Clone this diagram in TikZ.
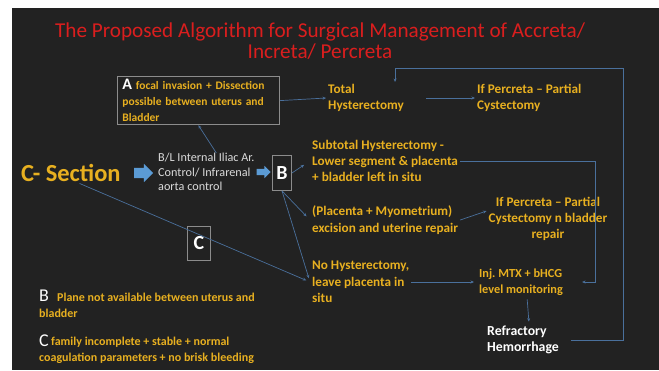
\documentclass[tikz,border=0pt]{standalone}
\usepackage{fontspec}
\setmainfont{Carlito}
\usepackage{tikz}
\usetikzlibrary{arrows.meta, positioning, calc, shapes.arrows}
\definecolor{bgd}{RGB}{34, 34, 34}
\definecolor{ttl}{RGB}{218, 30, 30}
\definecolor{ylw}{RGB}{232, 176, 32}
\definecolor{lnk}{RGB}{74, 112, 156}
\definecolor{blk}{RGB}{91, 155, 213}
\definecolor{frm}{RGB}{140, 140, 140}

\begin{document}
\begin{tikzpicture}[
    x=1pt, y=-1pt, >=Stealth,
    ytxt/.style={text=ylw, font=\fontsize{13.2}{16.3}\selectfont\bfseries, align=left, inner sep=2pt},
    smtxt/.style={text=ylw, font=\fontsize{12}{16.5}\selectfont\bfseries, align=left, inner sep=0pt},
    big/.style={text=white, font=\fontsize{18}{18}\selectfont},
    letterbox/.style={draw=frm, line width=0.8pt, minimum width=19pt, minimum height=35pt,
      inner sep=0pt, text=white, font=\fontsize{20}{20}\selectfont\bfseries},
    arr/.style={->, lnk, line width=0.7pt, arrows={-Stealth[length=3.5pt, width=3pt]}},
    fat/.style={single arrow, fill=blk, inner xsep=0pt, single arrow head extend=4pt}
  ]
  % slide background
  \fill[white] (0,0) rectangle (659,370);
  \fill[bgd] (12,8) rectangle (659,370);

  \node[text=ttl, font=\fontsize{21.2}{20.5}\selectfont, align=center] (title) at (320,41)
    {The Proposed Algorithm for Surgical Management of Accreta/\\Increta/ Percreta};

  % left part
  \node[text=ylw, font=\fontsize{24.5}{24.5}\selectfont\bfseries, anchor=west, inner sep=0pt] (csec) at (21,173) {C- Section};
  \node[fat, inner ysep=5pt, minimum height=19pt] (fat1) at (141,173) {};
  \node[text=white!86!black, font=\fontsize{12.2}{14.5}\selectfont, align=left, anchor=west, inner sep=0pt] (iliac) at (158,172)
    {B/L Internal Iliac Ar.\\Control/ Infrarenal\\aorta control};
  \node[fat, inner ysep=3pt, single arrow head extend=3pt, minimum height=14pt] (fat2) at (262,172) {};
  \node[letterbox] (bbox) at (282,173) {B};
  \node[letterbox, minimum width=23pt, minimum height=34pt] (cbox) at (199,243) {C};

  \node[draw=frm, line width=0.8pt, anchor=north west, text width=152pt, inner xsep=5pt, inner ysep=3pt,
    text=ylw, font=\fontsize{11.5}{16}\selectfont\bfseries, align=left] (boxA) at (117,76)
    {{\fontsize{16}{15}\selectfont\color{white}A} focal invasion + Dissection\\possible between uterus and\\Bladder};

  % right part
  \node[ytxt, anchor=west] (total) at (326,98) {Total\\Hysterectomy};
  \node[ytxt, anchor=west] (perc1) at (475,98) {If Percreta -- Partial\\Cystectomy};
  \node[ytxt, anchor=west] (subtot) at (310,161) {Subtotal Hysterectomy -\\Lower segment \& placenta\\+ bladder left in situ};
  \node[ytxt, anchor=west] (plac) at (310,220) {(Placenta + Myometrium)\\excision and uterine repair};
  \node[ytxt, align=center] (perc2) at (548,219) {If Percreta -- Partial\\Cystectomy n bladder\\repair};
  \node[ytxt, anchor=west] (nohyst) at (310,282) {No Hysterectomy,\\leave placenta in\\situ};
  \node[ytxt, font=\fontsize{12.3}{15.5}\selectfont\bfseries, anchor=west] (inj) at (477,282) {Inj.\ MTX + bHCG\\level monitoring};
  \node[ytxt, text=white, font=\fontsize{13.8}{16.5}\selectfont\bfseries, anchor=west] (refr) at (485,340) {Refractory\\Hemorrhage};

  % key
  \node[big, anchor=west, inner sep=0pt] (keyB) at (39,296) {B};
  \node[smtxt, anchor=west] (keyBt) at (57,297) {Plane not available between uterus and};
  \node[smtxt, anchor=west] (keyBt2) at (39,313) {bladder};
  \node[big, anchor=west, inner sep=0pt] (keyC) at (39,341) {C};
  \node[smtxt, anchor=west] (keyCt) at (51,342) {family incomplete + stable + normal};
  \node[smtxt, anchor=west] (keyCt2) at (39,358) {coagulation parameters + no brisk bleeding};

  \coordinate (rturn) at (595,282);
  \coordinate (topR) at (623,68);

  % connectors
  \draw[arr] (boxA.east) -- (total.west);
  \draw[arr, shorten <=20pt] (total.east) -- (perc1.west);
  \draw[arr] ([xshift=10pt]iliac.north) -- (boxA.south);
  \draw[arr, shorten >=7pt] (bbox.east) -- (subtot.west);
  \draw[arr, shorten >=5pt] (bbox.south) -- (plac.west);
  \draw[arr, shorten >=4pt] (bbox.south) -- (nohyst.west);
  \draw[arr, shorten <=4pt, shorten >=4pt] ([xshift=5pt]csec.south) -- (nohyst.west);
  \draw[arr] (subtot.east) -| (rturn) -- ([xshift=17pt]inj.east);
  \draw[arr] (plac.east) -- ([yshift=8pt]perc2.west);
  \draw[arr, shorten >=3pt] (nohyst.east) -- (inj.west);
  \draw[arr, shorten <=2pt, shorten >=2pt] ([xshift=6pt]inj.south) -- ([xshift=6pt]refr.north);
  \draw[arr, shorten <=10pt] (refr.east) -| (topR) -| ([xshift=29pt]total.north);
\end{tikzpicture}
\end{document}
